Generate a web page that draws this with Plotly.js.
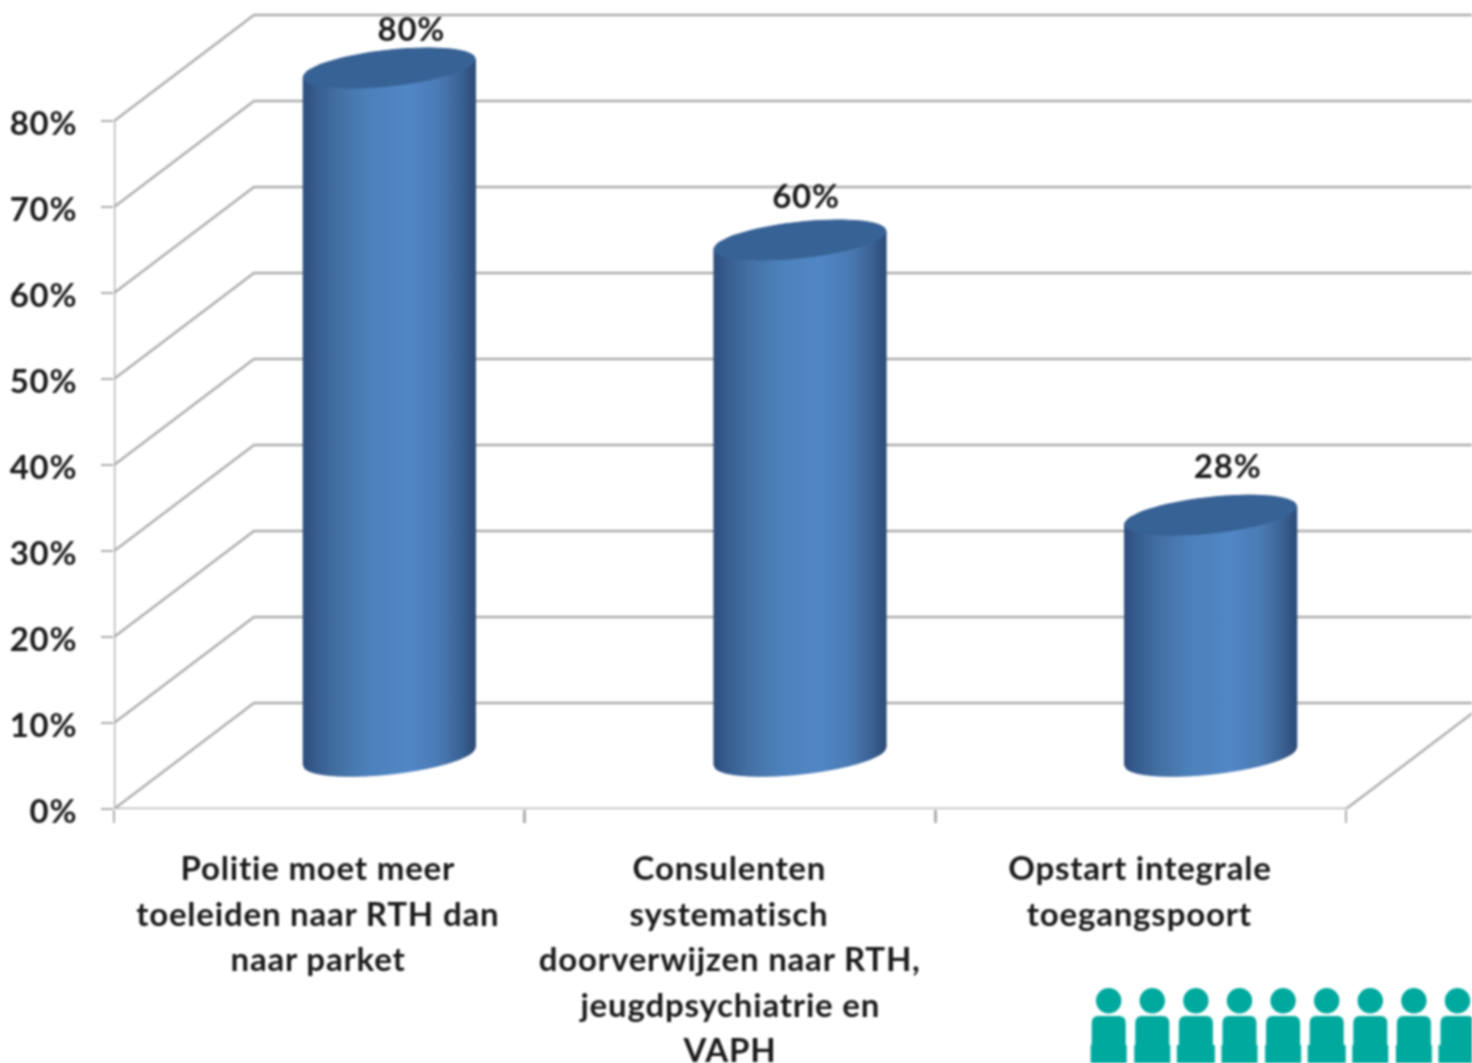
<!DOCTYPE html>
<html><head><meta charset="utf-8">
<script src="https://cdn.plot.ly/plotly-3.0.1.min.js"></script>
<style>html,body{margin:0;padding:0;background:#fff;overflow:hidden}#c{width:1472px;height:1063px;filter:blur(0.9px)}#c text{letter-spacing:0.8px}</style>
</head><body><div id="c"></div>
<script>
// ---- data ----
const categoryLines = [
  ["Politie moet meer","toeleiden naar RTH dan","naar parket"],
  ["Consulenten","systematisch","doorverwijzen naar RTH,","jeugdpsychiatrie en","VAPH"],
  ["Opstart integrale","toegangspoort"]
];
const values = [80, 60, 28];
const valueLabels = ["80%","60%","28%"];
const yTicks = [0,10,20,30,40,50,60,70,80];
const yTickLabels = ["0%","10%","20%","30%","40%","50%","60%","70%","80%"];
const xTicks = [0,1,2,3];

// ---- 3D projection of the chart, converted from pixels to axis units ----
const W = 1472, H = 1063;
const originPx = {x:114, y:809};
const pxPerCat = 410.67, pxPerPct = 8.6;
const xMax = (W-originPx.x)/pxPerCat, yMax = originPx.y/pxPerPct;
const depthX = 140/pxPerCat, depthY = 106/pxPerPct;
const ellA = 86/pxPerCat, ellB = 18/pxPerPct, ellS = 9/pxPerPct;
const gridColor = "#adadad";
const font = "Lato, 'Open Sans', sans-serif";
const txt = {family:font,size:33,color:"#1a1a1a",weight:700};

const traces = [];
yTicks.forEach(v=>traces.push({x:[0,depthX,xMax],y:[v,v+depthY,v+depthY],mode:"lines",
  line:{color:gridColor,width:2.4},cliponaxis:false,hoverinfo:"skip",showlegend:false}));
traces.push({x:[0,3,3+depthX],y:[0,0,depthY],mode:"lines",line:{color:gridColor,width:2.4},cliponaxis:false,hoverinfo:"skip",showlegend:false});
traces.push({x:[0,0],y:[0,80],mode:"lines",line:{color:gridColor,width:2.6},cliponaxis:false,hoverinfo:"skip",showlegend:false});

const stops = [[0,[47,78,125]],[0.07,[55,92,142]],[0.2,[68,112,162]],[0.4,[78,130,188]],[0.62,[82,135,198]],[0.8,[74,122,178]],[0.92,[60,98,148]],[1,[46,76,120]]];
function shade(f){
  for(let i=1;i<stops.length;i++){ if(f<=stops[i][0]){
    const a=stops[i-1],b=stops[i],k=(f-a[0])/(b[0]-a[0]);
    const c=a[1].map((q,j)=>Math.round(q+(b[1][j]-q)*k));
    return `rgb(${c[0]},${c[1]},${c[2]})`; } }
  return "rgb(46,76,120)";
}
const strips = 86;
values.forEach((v,i)=>{
  const cx = i+0.5+depthX/2, low = depthY/2, high = v+depthY/2;
  for(let k=0;k<strips;k++){
    const u0=-1+2*k/strips, u1=-1+2*(k+1)/strips;
    const edge=(b,u)=>b-ellB*Math.sqrt(Math.max(0,1-u*u))+ellS*u;
    const col=shade((k+0.5)/strips);
    traces.push({x:[cx+ellA*u0,cx+ellA*u1,cx+ellA*u1,cx+ellA*u0,cx+ellA*u0],
      y:[edge(low,u0),edge(low,u1),edge(high,u1),edge(high,u0),edge(low,u0)],
      mode:"lines",fill:"toself",fillcolor:col,line:{color:col,width:1.2},hoverinfo:"skip",showlegend:false,cliponaxis:false});
  }
  const ex=[],ey=[];
  for(let d=0;d<=72;d++){const t=d/72*2*Math.PI;
    ex.push(cx+ellA*Math.cos(t)); ey.push(high+ellB*Math.sin(t)+ellS*Math.cos(t));}
  traces.push({x:ex,y:ey,mode:"lines",fill:"toself",fillcolor:"#376295",line:{color:"#376295",width:1},hoverinfo:"skip",showlegend:false,cliponaxis:false});
});
const labelDx=[92/pxPerCat,76/pxPerCat,87/pxPerCat], labelDy=[10.3,10.8,11.4];
traces.push({x:values.map((v,i)=>i+0.5+labelDx[i]),y:values.map((v,i)=>v+labelDy[i]),text:valueLabels,mode:"text",
  textposition:"middle center",textfont:txt,hoverinfo:"skip",showlegend:false,cliponaxis:false});

const annotations=[];
categoryLines.forEach((lines,i)=>lines.forEach((t,j)=>annotations.push({
  text:t,xref:"x",x:i+0.5-1/pxPerCat,yref:"paper",y:(H-(867+45.5*j))/H,xanchor:"center",yanchor:"middle",
  showarrow:false,font:txt})));

const shapes=[];
const teal="#00a99d", px=x=>x/W, py=y=>(H-y)/H;
for(let n=0;n<9;n++){
  const c=1108.7+43.6*n;
  shapes.push({type:"circle",xref:"paper",yref:"paper",x0:px(c-12.7),x1:px(c+12.7),y0:py(1013.4),y1:py(988),fillcolor:teal,line:{width:0}});
  const w=17, w2=(n%3===2||n===5)?19:18;
  const path=`M ${px(c-w)} ${py(1045)} L ${px(c-w)} ${py(1023)} Q ${px(c-w)} ${py(1016)} ${px(c-w+7)} ${py(1016)} L ${px(c+w-7)} ${py(1016)} Q ${px(c+w)} ${py(1016)} ${px(c+w)} ${py(1023)} L ${px(c+w)} ${py(1045)} L ${px(c+w2)} ${py(1045)} L ${px(c+w2)} ${py(1063)} L ${px(c-w2)} ${py(1063)} L ${px(c-w2)} ${py(1045)} Z`;
  shapes.push({type:"path",xref:"paper",yref:"paper",path,fillcolor:teal,line:{width:0}});
}

const layout={
  width:W,height:H,margin:{l:0,r:0,t:0,b:0},paper_bgcolor:"#fff",plot_bgcolor:"#fff",showlegend:false,
  xaxis:{domain:[originPx.x/W,1],range:[0,xMax],tickmode:"array",tickvals:xTicks,showticklabels:false,ticks:"outside",ticklen:13,tickwidth:2.4,tickcolor:gridColor,showgrid:false,zeroline:false,showline:false},
  yaxis:{domain:[(H-originPx.y)/H,1],range:[0,yMax],tickmode:"array",tickvals:yTicks,ticktext:yTickLabels,ticks:"outside",ticklen:12,tickwidth:2.4,tickcolor:gridColor,ticklabelstandoff:17,ticklabelshift:2,
    tickfont:txt,showgrid:false,zeroline:false,showline:false},
  annotations,shapes
};
Plotly.newPlot("c",traces,layout,{staticPlot:true,displayModeBar:false});
</script></body></html>
